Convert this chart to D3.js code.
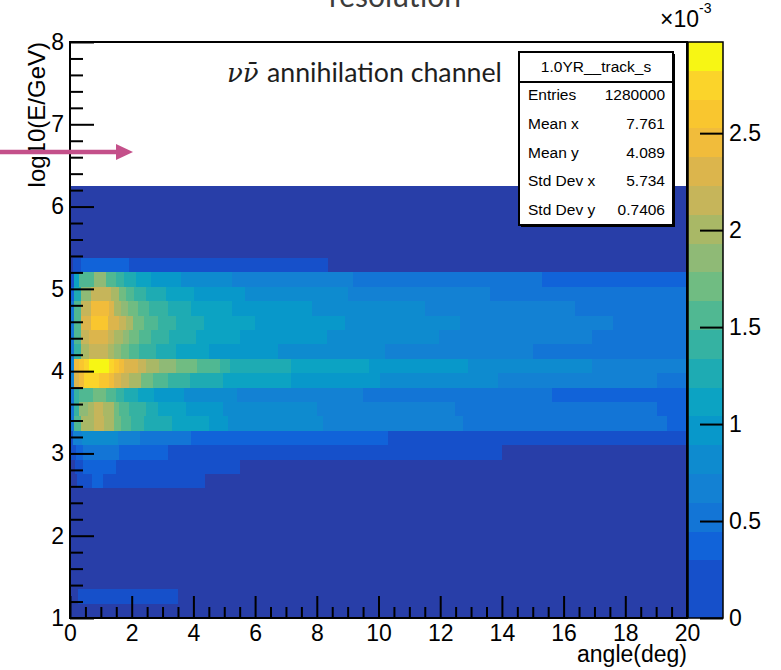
<!DOCTYPE html>
<html>
<head>
<meta charset="utf-8">
<script src="https://cdn.jsdelivr.net/npm/d3@7"></script>
<style>
  html, body { margin: 0; padding: 0; background: #fff; }
  svg { display: block; }
</style>
</head>
<body>
<svg id="chart" width="781" height="670"></svg>
<script>
// ---- histogram axes ----
const X_RANGE = [0, 20];          // angle (deg)
const Y_RANGE = [1, 8];           // log10(E/GeV)
const Y_BINS = 40;                // equal-width bins along y
const Z_MAX = 2.97;               // colour axis top, in units of 1e-3
const N_LEVELS = 20;              // contour levels of the colour palette

const xTicks = [0, 2, 4, 6, 8, 10, 12, 14, 16, 18, 20];
const yTicks = [1, 2, 3, 4, 5, 6, 7, 8];
const zTicks = [0, 0.5, 1, 1.5, 2, 2.5];

// palette, one colour per contour level (lowest level painted dark navy in the map)
const levelColors = [
  "#283ea8", "#1650ca", "#1163d9", "#1375d6", "#1381d3",
  "#0e8bcf", "#0898ca", "#0ca3c3", "#1eabb3", "#35b2a2",
  "#50b892", "#70bc82", "#8fba76", "#a9b866", "#c6b55a",
  "#dcb54c", "#f1bc3b", "#f9c62f", "#fbd42a", "#f7f614"
];

// bin contents per y-bin (index 0 = lowest bin), as runs [angle where the run starts, content ×1e-3]
const rowRuns = [
  [[0, 0.07]],
  [[0, 0.07], [0.27, 0.22], [3.5, 0.07]],
  [[0, 0.07]],
  [[0, 0.07]],
  [[0, 0.07]],
  [[0, 0.07]],
  [[0, 0.07]],
  [[0, 0.07]],
  [[0, 0.07]],
  [[0, 0.07], [0.22, 0.22], [0.70, 0.37], [1.08, 0.22], [4.38, 0.07]],
  [[0, 0.07], [0.16, 0.22], [0.43, 0.37], [1.48, 0.22], [5.51, 0.07]],
  [[0, 0.22], [0.2, 0.37], [0.41, 0.52], [1.6, 0.37], [3.18, 0.22], [14.0, 0.07]],
  [[0, 0.22], [0.11, 0.67], [0.38, 0.82], [1.56, 0.67], [2.28, 0.52], [3.93, 0.37], [10.32, 0.22]],
  [[0, 0.52], [0.14, 1.56], [0.36, 2.0], [0.79, 2.15], [1.11, 2.0], [1.44, 1.71], [1.65, 1.56],
   [1.98, 1.41], [2.41, 1.26], [3.3, 1.11], [4.5, 0.97], [5.13, 0.82], [8.21, 0.67], [12.75, 0.52], [19.34, 0.37]],
  [[0, 0.52], [0.14, 1.41], [0.30, 1.86], [0.57, 2.0], [0.79, 2.15], [1.06, 2.0], [1.44, 1.71], [1.60, 1.56],
   [1.92, 1.41], [2.46, 1.26], [2.84, 1.11], [3.76, 0.97], [4.97, 0.82], [8.0, 0.67], [12.48, 0.52], [19.02, 0.37]],
  [[0, 0.52], [0.14, 1.41], [0.30, 1.56], [0.73, 1.71], [1.17, 1.56], [1.49, 1.41], [1.76, 1.26],
   [2.19, 1.11], [2.73, 0.97], [3.71, 0.82], [5.40, 0.67], [9.51, 0.52], [15.61, 0.37]],
  [[0, 0.67], [0.14, 2.3], [0.30, 2.45], [0.46, 2.75], [0.95, 2.6], [1.27, 2.45], [1.44, 2.3], [1.65, 2.15],
   [1.92, 2.0], [2.30, 1.71], [2.68, 1.56], [3.17, 1.41], [3.89, 1.26], [4.97, 1.11], [7.16, 0.97],
   [10.05, 0.82], [13.88, 0.67], [19.02, 0.52]],
  [[0, 0.67], [0.14, 2.45], [0.30, 2.6], [0.46, 2.75], [0.63, 2.9], [1.27, 2.75], [1.44, 2.6], [1.60, 2.45],
   [1.76, 2.3], [2.19, 2.15], [2.46, 2.0], [2.90, 1.86], [3.44, 1.71], [4.11, 1.56], [4.86, 1.41],
   [5.19, 1.26], [7.16, 1.11], [9.7, 0.97], [12.91, 0.82], [16.91, 0.67]],
  [[0, 0.52], [0.14, 1.41], [0.36, 2.0], [0.63, 2.15], [1.22, 2.0], [1.44, 1.86], [1.65, 1.71], [1.92, 1.56],
   [2.25, 1.41], [2.79, 1.26], [3.44, 1.11], [4.52, 0.97], [6.75, 0.82], [10.21, 0.67], [15.02, 0.52]],
  [[0, 0.52], [0.14, 1.56], [0.36, 2.15], [0.63, 2.3], [1.22, 2.15], [1.44, 2.0], [1.71, 1.86], [1.92, 1.71],
   [2.25, 1.56], [2.63, 1.41], [3.22, 1.26], [4.08, 1.11], [5.51, 0.97], [8.32, 0.82], [11.96, 0.67], [16.91, 0.52]],
  [[0, 0.52], [0.14, 1.56], [0.36, 2.3], [0.68, 2.6], [1.22, 2.3], [1.60, 2.15], [1.82, 2.0], [2.03, 1.71],
   [2.41, 1.56], [2.84, 1.41], [3.44, 1.26], [4.35, 1.11], [6.0, 0.97], [8.91, 0.82], [12.64, 0.67], [17.61, 0.52]],
  [[0, 0.52], [0.14, 1.56], [0.36, 2.15], [0.68, 2.45], [1.27, 2.3], [1.44, 2.0], [1.65, 1.86], [1.87, 1.71],
   [2.19, 1.56], [2.57, 1.41], [3.17, 1.26], [3.92, 1.11], [5.24, 0.97], [7.86, 0.82], [11.51, 0.67], [16.37, 0.52]],
  [[0, 0.37], [0.14, 1.26], [0.36, 1.86], [0.68, 2.15], [1.33, 2.0], [1.60, 1.71], [1.82, 1.56], [2.09, 1.41],
   [2.46, 1.26], [3.11, 1.11], [4.03, 0.97], [5.67, 0.82], [9.02, 0.67], [13.61, 0.52]],
  [[0, 0.22], [0.14, 1.11], [0.30, 1.56], [0.79, 1.86], [1.17, 1.56], [1.49, 1.41], [1.76, 1.26], [2.14, 1.11],
   [2.63, 0.97], [3.60, 0.82], [5.24, 0.67], [9.18, 0.52], [15.29, 0.37]],
  [[0, 0.07], [0.1, 0.22], [0.36, 0.37], [1.92, 0.22], [8.37, 0.07]],
  [[0, 0.07]],
  [[0, 0.07]],
  [[0, 0.07]],
  [[0, 0.07]],
  [[0, 0.07]]
];

const statsTitle = "1.0YR__track_s";
const statsNames = ["Entries", "Mean x", "Mean y", "Std Dev x", "Std Dev y"];
const statsValues = ["1280000", "7.761", "4.089", "5.734", "0.7406"];

// ---- drawing ----
const FONT = "'Liberation Sans', Arial, Helvetica, sans-serif";
const svg = d3.select("#chart");
svg.append("rect").attr("width", 781).attr("height", 670).attr("fill", "#fff");

const frame = { left: 70, right: 687, top: 42, bottom: 618 };
const x = d3.scaleLinear().domain(X_RANGE).range([frame.left, frame.right]);
const y = d3.scaleLinear().domain(Y_RANGE).range([frame.bottom, frame.top]);
const binH = (Y_RANGE[1] - Y_RANGE[0]) / Y_BINS;
const step = Z_MAX / N_LEVELS;
const color = d3.scaleThreshold()
  .domain(d3.range(1, N_LEVELS).map(i => i * step))
  .range(levelColors);

// page title, cut by the top edge
svg.append("text")
  .attr("x", 395).attr("y", 7)
  .attr("text-anchor", "middle")
  .attr("font-family", "Lato, 'Open Sans', sans-serif")
  .attr("font-size", 30).attr("fill", "#3c3c3c")
  .text("resolution");

// heat-map cells
const cells = [];
rowRuns.forEach((runs, j) => {
  runs.forEach((r, k) => {
    const x1 = k + 1 < runs.length ? runs[k + 1][0] : X_RANGE[1];
    cells.push({ x0: r[0], x1, y0: Y_RANGE[0] + j * binH, y1: Y_RANGE[0] + (j + 1) * binH, z: r[1] });
  });
});
svg.append("g").attr("shape-rendering", "crispEdges")
  .selectAll("rect").data(cells).join("rect")
  .attr("x", d => x(d.x0))
  .attr("width", d => x(d.x1) - x(d.x0))
  .attr("y", d => y(d.y1))
  .attr("height", d => y(d.y0) - y(d.y1))
  .attr("fill", d => color(d.z));

// frame
svg.append("rect")
  .attr("x", frame.left).attr("y", frame.top)
  .attr("width", frame.right - frame.left).attr("height", frame.bottom - frame.top)
  .attr("fill", "none").attr("stroke", "#000").attr("stroke-width", 2);

function styleAxis(g, size) {
  g.select(".domain").remove();
  g.selectAll(".tick line").attr("stroke", "#000").attr("stroke-width", 2);
  g.selectAll("text").attr("font-family", FONT).attr("font-size", size).attr("fill", "#000");
}

// x axis, ticks pointing into the frame
const xMinor = d3.range(0.5, 20, 0.5).filter(v => v % 2 !== 0);
svg.append("g").attr("transform", `translate(0,${frame.bottom})`)
  .call(d3.axisBottom(x).tickValues(xMinor).tickSize(-11).tickFormat(""))
  .call(g => styleAxis(g, 23));
svg.append("g").attr("transform", `translate(0,${frame.bottom})`)
  .call(d3.axisBottom(x).tickValues(xTicks).tickSize(-22).tickPadding(7).tickFormat(d3.format("d")))
  .call(g => styleAxis(g, 23));

// y axis
const yMinor = d3.range(1.2, 8, 0.2).filter(v => Math.abs(v - Math.round(v)) > 0.01);
svg.append("g").attr("transform", `translate(${frame.left},0)`)
  .call(d3.axisLeft(y).tickValues(yMinor).tickSize(-13).tickFormat(""))
  .call(g => styleAxis(g, 23));
svg.append("g").attr("transform", `translate(${frame.left},0)`)
  .call(d3.axisLeft(y).tickValues(yTicks).tickSize(-24).tickPadding(6).tickFormat(d3.format("d")))
  .call(g => styleAxis(g, 23));

// axis titles
svg.append("text")
  .attr("x", frame.right).attr("y", 662)
  .attr("text-anchor", "end")
  .attr("font-family", FONT).attr("font-size", 23)
  .text("angle(deg)");
svg.append("text")
  .attr("transform", `translate(45,${frame.top}) rotate(-90)`)
  .attr("text-anchor", "end")
  .attr("font-family", FONT).attr("font-size", 24)
  .text("log10(E/GeV)");

// colour bar
const bar = { left: 688, right: 723 };
const z = d3.scaleLinear().domain([0, Z_MAX]).range([frame.bottom, frame.top]);
const levels = d3.range(N_LEVELS);
svg.append("g").attr("shape-rendering", "crispEdges")
  .selectAll("rect").data(levels).join("rect")
  .attr("x", bar.left).attr("width", bar.right - bar.left)
  .attr("y", i => z((i + 1) * step))
  .attr("height", i => z(i * step) - z((i + 1) * step))
  // the lowest legend box shares the colour of the next level
  .attr("fill", i => levelColors[Math.max(i, 1)]);
svg.append("rect")
  .attr("x", bar.left).attr("y", frame.top)
  .attr("width", bar.right - bar.left).attr("height", frame.bottom - frame.top)
  .attr("fill", "none").attr("stroke", "#000").attr("stroke-width", 1.5);
svg.append("g").attr("transform", `translate(${bar.right},0)`)
  .call(d3.axisRight(z).tickValues(zTicks).tickSize(-23).tickPadding(6).tickFormat(d3.format("~g")))
  .call(g => styleAxis(g, 23));
const expo = svg.append("text")
  .attr("x", 660).attr("y", 27)
  .attr("font-family", FONT).attr("font-size", 23);
expo.append("tspan").text("\u00d710");
expo.append("tspan").attr("font-size", 14).attr("dy", -14).text("-3");

// statistics box
const sb = { x: 519, y: 52, w: 154, h: 173, titleH: 30 };
const stats = svg.append("g");
stats.append("rect").attr("x", sb.x + 2).attr("y", sb.y + 2).attr("width", sb.w).attr("height", sb.h).attr("fill", "#000");
stats.append("rect").attr("x", sb.x).attr("y", sb.y).attr("width", sb.w).attr("height", sb.h)
  .attr("fill", "#fff").attr("stroke", "#000").attr("stroke-width", 2);
stats.append("line")
  .attr("x1", sb.x).attr("x2", sb.x + sb.w)
  .attr("y1", sb.y + sb.titleH).attr("y2", sb.y + sb.titleH)
  .attr("stroke", "#000").attr("stroke-width", 2);
stats.append("text")
  .attr("x", sb.x + sb.w / 2).attr("y", sb.y + 20)
  .attr("text-anchor", "middle")
  .attr("font-family", FONT).attr("font-size", 15.5)
  .text(statsTitle);
const rowY = d3.scalePoint().domain(statsNames).range([100, 215]);
stats.selectAll("text.name").data(statsNames).join("text")
  .attr("class", "name")
  .attr("x", sb.x + 9).attr("y", d => rowY(d))
  .attr("font-family", FONT).attr("font-size", 15.5)
  .text(d => d);
stats.selectAll("text.val").data(statsValues).join("text")
  .attr("class", "val")
  .attr("x", sb.x + sb.w - 8).attr("y", (d, i) => rowY(statsNames[i]))
  .attr("text-anchor", "end")
  .attr("font-family", FONT).attr("font-size", 15.5)
  .text(d => d);

// channel annotation
const note = svg.append("text")
  .attr("x", 227).attr("y", 82)
  .attr("fill", "#1e1e1e");
note.append("tspan")
  .attr("font-family", "'DejaVu Serif', serif").attr("font-style", "italic").attr("font-size", 26)
  .text("\u03bd\u03bd\u0304");
const words = note.append("tspan")
  .attr("x", 267)
  .attr("font-family", "Lato, 'Open Sans', sans-serif").attr("font-size", 22)
  .text("annihilation channel");
const wlen = words.node().getComputedTextLength();
words.attr("font-size", 22 * 235 / wlen);

// energy marker arrow
const arrowY = 152;
svg.append("line")
  .attr("x1", 0).attr("x2", 118).attr("y1", arrowY).attr("y2", arrowY)
  .attr("stroke", "#c4508a").attr("stroke-width", 4.5);
svg.append("path")
  .attr("d", `M116,${arrowY - 8} L133,${arrowY} L116,${arrowY + 8} Z`)
  .attr("fill", "#c4508a");
</script>
</body>
</html>
